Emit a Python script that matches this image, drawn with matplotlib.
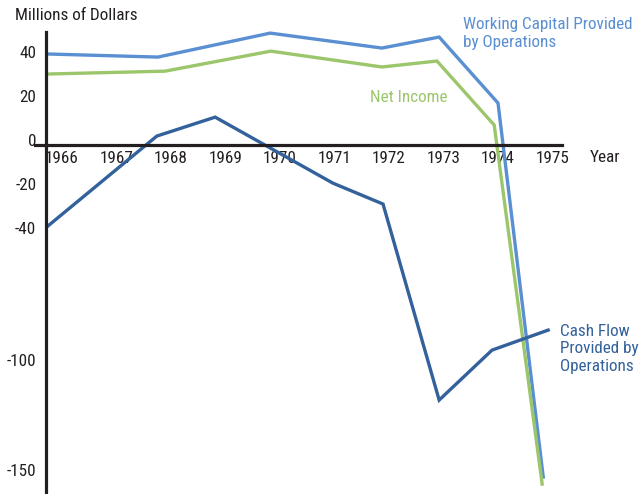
import matplotlib
matplotlib.use('Agg')
import matplotlib.pyplot as plt
import matplotlib.transforms as mtransforms

# values (x in years, y in millions of dollars)
cash_x = [1965.74, 1967.74, 1968.81, 1970.97, 1971.89, 1972.92, 1973.89, 1974.92]
cash_y = [-36.8, 4.1, 12.7, -17.3, -26.8, -115.9, -93.2, -84.1]

wc_x = [1965.74, 1967.76, 1969.82, 1971.87, 1972.92, 1974.0, 1974.83]
wc_y = [41.4, 40.0, 50.9, 44.1, 49.1, 19.1, -150.9]

ni_x = [1965.74, 1967.89, 1969.83, 1971.87, 1972.88, 1973.93, 1974.81]
ni_y = [32.3, 33.6, 42.7, 35.5, 38.2, 9.1, -154.1]

years = list(range(1966, 1976))
yticks = [40, 20, 0, -20, -40, -100, -150]

plt.rcParams['font.family'] = ['Roboto Condensed', 'Liberation Sans', 'DejaVu Sans']
fs = 12.3

c_wc = '#5a8fd1'
c_ni = '#9cc66b'
c_cf = '#33619b'
c_txt = '#231f20'

W, H = 641, 494
fig = plt.figure(figsize=(W / 100, H / 100), dpi=100)
ax = fig.add_axes([46 / W, 0, 516 / W, 462 / H])
ax.set_xlim(1965.706, 1975.174)
ax.set_ylim(-158.6, 51.4)

ax.plot(wc_x, wc_y, color=c_wc, lw=2.4, solid_joinstyle='miter', clip_on=False)
ax.plot(ni_x, ni_y, color=c_ni, lw=2.4, solid_joinstyle='miter', clip_on=False)
ax.plot(cash_x, cash_y, color=c_cf, lw=2.4, solid_joinstyle='miter', clip_on=False)

for s in ['top', 'right']:
    ax.spines[s].set_visible(False)
ax.spines['left'].set_linewidth(2.3)
ax.spines['left'].set_color(c_txt)
ax.spines['bottom'].set_position(('data', 0))
ax.spines['bottom'].set_color('none')
ax.axhline(0, xmin=-0.022, xmax=1, color=c_txt, lw=2.3, clip_on=False)

ax.set_xticks(years)
ax.set_xticklabels([str(y) for y in years])
ax.set_yticks(yticks)
ax.set_yticklabels([str(v) for v in yticks])
ax.tick_params(length=0, labelsize=fs, colors=c_txt)
ax.tick_params(axis='x', pad=4)
ax.tick_params(axis='y', pad=7)
shift = mtransforms.ScaledTranslation(0, 5 / 100, fig.dpi_scale_trans)
for lab in ax.get_yticklabels():
    lab.set_transform(lab.get_transform() + shift)

fig.text(15 / W, 1 - 15 / H, 'Millions of Dollars', fontsize=fs, color=c_txt,
         ha='left', va='center')
fig.text(590 / W, 1 - 158 / H, 'Year', fontsize=fs, color=c_txt,
         ha='left', va='center')
fig.text(463 / W, 1 - 34 / H, 'Working Capital Provided\nby Operations', fontsize=fs,
         color=c_wc, ha='left', va='center', linespacing=1.25)
fig.text(370 / W, 1 - 97 / H, 'Net Income', fontsize=fs, color=c_ni,
         ha='left', va='center')
fig.text(560 / W, 1 - 349 / H, 'Cash Flow\nProvided by\nOperations', fontsize=fs,
         color=c_cf, ha='left', va='center', linespacing=1.25)

fig.savefig('out.png', dpi=100)
